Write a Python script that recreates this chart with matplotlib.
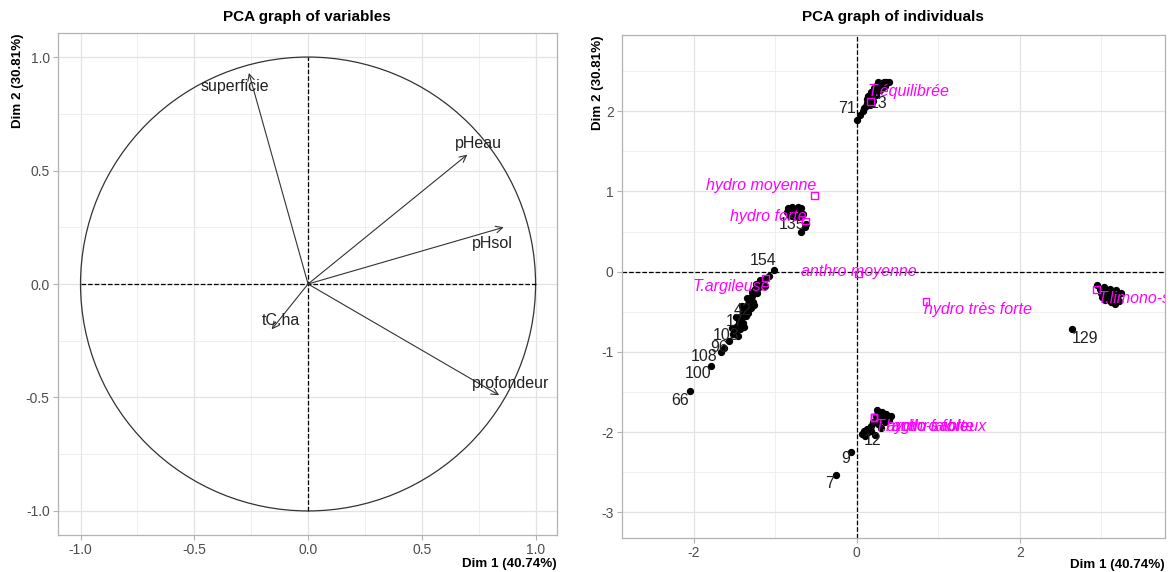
import numpy as np
import matplotlib
matplotlib.use('Agg')
import matplotlib.pyplot as plt
from matplotlib.patches import Circle

plt.rcParams['font.family'] = ['Liberation Sans', 'DejaVu Sans']
plt.rcParams['axes.unicode_minus'] = False

# ---- variables (correlation circle) ----
var_names = ['superficie', 'pHeau', 'pHsol', 'profondeur', 'tC.ha']
var_dim1 = [-0.26, 0.70, 0.86, 0.84, -0.16]
var_dim2 = [0.93, 0.57, 0.25, -0.49, -0.20]
var_lab_x = [-0.32, 0.75, 0.81, 0.89, -0.12]
var_lab_y = [0.87, 0.62, 0.18, -0.44, -0.16]

circle_ticks = [-1.0, -0.5, 0.0, 0.5, 1.0]
circle_minor = [-0.75, -0.25, 0.25, 0.75]

# ---- individuals, one list per cluster ----
equil_x = [0.00, 0.04, 0.07, 0.09, 0.11, 0.13, 0.15, 0.12, 0.17, 0.20, 0.18, 0.22, 0.25, 0.23,
           0.27, 0.30, 0.33, 0.36, 0.39, 0.28, 0.32, 0.24, 0.16, 0.20, 0.35, 0.14, 0.26, 0.21]
equil_y = [1.89, 1.95, 2.00, 2.04, 2.07, 2.10, 2.13, 2.15, 2.17, 2.20, 2.24, 2.25, 2.28, 2.31,
           2.33, 2.35, 2.36, 2.37, 2.36, 2.26, 2.30, 2.20, 2.08, 2.13, 2.32, 2.19, 2.37, 2.29]

hforte_x = [-0.86, -0.84, -0.81, -0.79, -0.77, -0.74, -0.72, -0.70, -0.68, -0.66, -0.80, -0.75,
            -0.62, -0.64, -0.68, -0.83, -0.71]
hforte_y = [0.74, 0.79, 0.76, 0.80, 0.73, 0.78, 0.81, 0.75, 0.79, 0.72, 0.70, 0.69,
            0.60, 0.56, 0.49, 0.71, 0.68]

argil_x = [-1.01, -1.08, -1.12, -1.15, -1.18, -1.13, -1.21, -1.25, -1.22, -1.28, -1.31, -1.27,
           -1.34, -1.30, -1.37, -1.40, -1.36, -1.33, -1.42, -1.45, -1.39, -1.47, -1.43, -1.50,
           -1.52, -1.46, -1.57, -1.63, -1.66, -1.79, -2.05, -1.19, -1.24, -1.29, -1.35, -1.26,
           -1.41, -1.48, -1.38, -1.53]
argil_y = [0.02, -0.05, -0.09, -0.12, -0.15, -0.18, -0.20, -0.22, -0.27, -0.30, -0.34, -0.38,
           -0.40, -0.45, -0.47, -0.50, -0.55, -0.52, -0.58, -0.62, -0.64, -0.68, -0.71, -0.74,
           -0.78, -0.80, -0.87, -0.95, -1.00, -1.18, -1.49, -0.10, -0.16, -0.25, -0.33, -0.42,
           -0.43, -0.57, -0.69, -0.70]

sabl_x = [0.06, 0.09, 0.12, 0.10, 0.14, 0.17, 0.20, 0.23, 0.25, 0.28, 0.31, 0.29, 0.33, 0.36,
          0.38, 0.40, 0.42, 0.35, 0.26, 0.30, 0.18, 0.22, -0.07, -0.25]
sabl_y = [-2.02, -1.99, -1.96, -2.05, -2.00, -1.93, -1.88, -1.80, -1.73, -1.76, -1.75, -1.83,
          -1.80, -1.78, -1.82, -1.85, -1.80, -1.88, -1.90, -1.95, -1.98, -2.03, -2.25, -2.54]

limon_x = [2.95, 2.98, 3.00, 3.03, 3.06, 3.08, 3.10, 3.13, 3.15, 3.18, 3.20, 3.22, 3.05, 3.12,
           3.17, 3.01, 3.24, 2.64]
limon_y = [-0.17, -0.22, -0.27, -0.19, -0.24, -0.30, -0.21, -0.27, -0.33, -0.23, -0.29, -0.36,
           -0.35, -0.38, -0.40, -0.31, -0.26, -0.71]

# labelled individuals: name, label position
ind_names = ['71', '154', '66', '100', '108', '96', '103', '129', '9', '7', '12', '42', '135',
             '13', '17']
ind_lx = [-0.12, -1.15, -2.17, -1.95, -1.87, -1.69, -1.60, 2.80, -0.14, -0.33, 0.19, -1.40,
          -0.80, 0.27, -1.50]
ind_ly = [2.04, 0.14, -1.60, -1.27, -1.06, -0.95, -0.79, -0.83, -2.33, -2.64, -2.10, -0.48,
          0.59, 2.10, -0.62]

# supplementary categories (magenta)
quali_names = ['T.équilibrée', 'hydro moyenne', 'hydro forte', 'anthro moyenne', 'T.argileuse',
               'hydro très forte', 'T.limono-sableuse', 'T.argilo-sableux', 'hydro faible',
               'anthro forte']
quali_x = [0.17, -0.52, -0.63, 0.02, -1.12, 0.85, 2.94, 0.21, 0.21, 0.21]
quali_y = [2.12, 0.95, 0.63, -0.03, -0.08, -0.37, -0.22, -1.82, -1.82, -1.82]
quali_lx = [0.64, -1.17, -1.09, 0.02, -1.54, 1.49, 3.74, 0.90, 0.86, 0.93]
quali_ly = [2.25, 1.08, 0.69, 0.0, -0.18, -0.47, -0.33, -1.93, -1.93, -1.93]

ind_xticks = [-2, 0, 2]
ind_xminor = [-1, 1, 3]
ind_yticks = [-3, -2, -1, 0, 1, 2]
ind_yminor = [-2.5, -1.5, -0.5, 0.5, 1.5, 2.5]

W, H = 1172, 572
fig = plt.figure(figsize=(W / 100, H / 100), dpi=100)
ax1 = fig.add_axes([58 / W, 1 - 535 / H, 498.5 / W, 502 / H])
ax2 = fig.add_axes([622 / W, 1 - 538 / H, 543 / W, 503 / H])

tick_col = '#4D4D4D'


def style(ax, xt, xm, yt, ym, xlim, ylim):
    ax.set_xlim(*xlim)
    ax.set_ylim(*ylim)
    for v in xt:
        ax.axvline(v, color='#E3E3E3', lw=0.9, zorder=0)
    for v in xm:
        ax.axvline(v, color='#EDEDED', lw=0.6, zorder=0)
    for v in yt:
        ax.axhline(v, color='#E3E3E3', lw=0.9, zorder=0)
    for v in ym:
        ax.axhline(v, color='#EDEDED', lw=0.6, zorder=0)
    ax.set_xticks(xt)
    ax.set_yticks(yt)
    for s in ax.spines.values():
        s.set_color('#B3B3B3')
        s.set_linewidth(0.9)
    ax.tick_params(colors='#B3B3B3', labelcolor=tick_col, labelsize=10, length=3.5, width=0.8,
                   pad=2.5)
    ax.set_xlabel('Dim 1 (40.74%)', loc='right', fontsize=9.6, fontweight='bold')
    ax.set_ylabel('Dim 2 (30.81%)', loc='top', fontsize=9.6, fontweight='bold')


# ---- left: variables ----
style(ax1, circle_ticks, circle_minor, circle_ticks, circle_minor, (-1.099, 1.092), (-1.106, 1.106))
ax1.set_xticklabels([f'{v:.1f}' for v in circle_ticks])
ax1.set_yticklabels([f'{v:.1f}' for v in circle_ticks])
ax1.xaxis.set_label_coords(1.0, -0.046)
ax1.yaxis.set_label_coords(-0.068, 1.0)
ax1.add_patch(Circle((0, 0), 1, fill=False, color='#333333', lw=0.9))
ax1.plot([-1, 1], [0, 0], ls='--', color='black', lw=0.9)
ax1.plot([0, 0], [-1, 1], ls='--', color='black', lw=0.9)
for name, x, y, lx, ly in zip(var_names, var_dim1, var_dim2, var_lab_x, var_lab_y):
    ax1.annotate('', xy=(x, y), xytext=(0, 0),
                 arrowprops=dict(arrowstyle='->', color='#333333', lw=0.8,
                                 mutation_scale=12, shrinkA=0, shrinkB=0))
    ax1.text(lx, ly, name, ha='center', va='center', fontsize=11.5, color='#222222')

# ---- right: individuals ----
style(ax2, ind_xticks, ind_xminor, ind_yticks, ind_yminor, (-2.88, 3.78), (-3.32, 2.95))
ax2.xaxis.set_label_coords(1.0, -0.042)
ax2.yaxis.set_label_coords(-0.034, 1.0)
ax2.axhline(0, ls='--', color='black', lw=0.9)
ax2.axvline(0, ls='--', color='black', lw=0.9)
for xs, ys in [(equil_x, equil_y), (hforte_x, hforte_y), (argil_x, argil_y),
               (sabl_x, sabl_y), (limon_x, limon_y)]:
    ax2.scatter(xs, ys, s=18, color='black', zorder=3)
for name, lx, ly in zip(ind_names, ind_lx, ind_ly):
    ax2.text(lx, ly, name, ha='center', va='center', fontsize=11.5, color='#222222', zorder=4)
ax2.scatter(quali_x, quali_y, marker='s', s=22, facecolors='none', edgecolors='#FF00FF',
            linewidths=1, zorder=5)
for name, lx, ly in zip(quali_names, quali_lx, quali_ly):
    t = ax2.text(lx, ly, name, ha='center', va='center', fontsize=11.5, style='italic',
                 color='#FF00FF', zorder=6)
    t.set_clip_on(True)

fig.text(307 / W, 1 - 17.5 / H, 'PCA graph of variables', ha='center', va='center',
         fontsize=11, fontweight='bold')
fig.text(893 / W, 1 - 17.5 / H, 'PCA graph of individuals', ha='center', va='center',
         fontsize=11, fontweight='bold')

fig.savefig('out.png', dpi=100)
